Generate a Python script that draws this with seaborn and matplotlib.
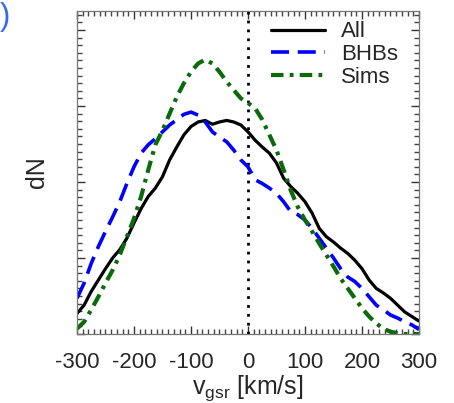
import numpy as np
import pandas as pd
import matplotlib
matplotlib.use("Agg")
import matplotlib.pyplot as plt
from matplotlib.ticker import MultipleLocator, NullFormatter
import seaborn as sns

# Velocity grid (km/s)
v_gsr = [-300, -287.5, -275, -262.5, -250, -237.5, -225, -212.5, -200, -187.5,
         -175, -162.5, -150, -137.5, -125, -112.5, -100, -87.5, -75, -62.5,
         -50, -37.5, -25, -12.5, 0, 12.5, 25, 37.5, 50, 62.5,
         75, 87.5, 100, 112.5, 125, 137.5, 150, 162.5, 175, 187.5,
         200, 212.5, 225, 237.5, 250, 262.5, 275, 287.5, 300]

# Velocity distributions (arbitrary units)
dn_all = [0.27, 0.38, 0.56, 0.71, 0.86, 1.00, 1.11, 1.26, 1.46, 1.65,
          1.81, 1.92, 2.07, 2.29, 2.46, 2.62, 2.73, 2.79, 2.81, 2.76,
          2.79, 2.81, 2.79, 2.75, 2.66, 2.55, 2.46, 2.38, 2.25, 2.05,
          1.94, 1.85, 1.74, 1.59, 1.39, 1.28, 1.21, 1.13, 1.06, 0.97,
          0.86, 0.71, 0.60, 0.54, 0.47, 0.38, 0.29, 0.23, 0.17]

dn_bhb = [0.47, 0.67, 0.93, 1.15, 1.35, 1.54, 1.74, 1.98, 2.20, 2.38,
          2.49, 2.57, 2.66, 2.75, 2.82, 2.89, 2.92, 2.88, 2.79, 2.66,
          2.59, 2.53, 2.42, 2.29, 2.20, 2.03, 1.98, 1.92, 1.85, 1.74,
          1.61, 1.57, 1.50, 1.39, 1.26, 1.13, 1.00, 0.86, 0.75, 0.69,
          0.60, 0.49, 0.38, 0.32, 0.25, 0.21, 0.16, 0.12, 0.06]

dn_sims = [0.07, 0.16, 0.32, 0.49, 0.67, 0.84, 1.04, 1.28, 1.52, 1.81,
           2.16, 2.49, 2.68, 2.90, 3.12, 3.30, 3.45, 3.56, 3.61, 3.56,
           3.45, 3.32, 3.21, 3.10, 3.04, 2.97, 2.82, 2.62, 2.42, 2.16,
           1.89, 1.67, 1.50, 1.35, 1.19, 1.04, 0.89, 0.73, 0.60, 0.47,
           0.34, 0.23, 0.14, 0.07, 0.03, 0.01, 0.00, 0.00, 0.00]

series_names = ["All", "BHBs", "Sims"]
tick_vals = [-300, -200, -100, 0, 100, 200, 300]

sns.set_style("ticks")
plt.rcParams["font.family"] = ["Liberation Sans", "DejaVu Sans"]
plt.rcParams["mathtext.fontset"] = "custom"
plt.rcParams["mathtext.rm"] = "Liberation Sans"

fig = plt.figure(figsize=(4.54, 4.03), dpi=100)
ax = fig.add_axes([0.1696, 0.1712, 0.7533, 0.8015])

styles = {
    "All": dict(color="black", lw=2.3, linestyle="-"),
    "BHBs": dict(color="#0000ff", lw=2.6, linestyle=(0, (5.0, 2.4))),
    "Sims": dict(color="#0b6b0b", lw=3.0, linestyle=(0, (3.0, 1.5, 0.9, 1.5))),
}
for name, vals in zip(series_names, [dn_all, dn_bhb, dn_sims]):
    df = pd.DataFrame({"v": v_gsr, "dN": vals})
    sns.lineplot(data=df, x="v", y="dN", ax=ax, label=name, **styles[name])

ax.axvline(0, color="black", lw=2.0, linestyle=(0, (1, 2.2)), zorder=1)

ax.set_xlim(-300, 300)
ax.set_ylim(0, 4.25)
ax.set_xticks(tick_vals)
ax.set_xticklabels([str(t) for t in tick_vals])
ax.yaxis.set_major_locator(MultipleLocator(1))
ax.yaxis.set_major_formatter(NullFormatter())
ax.set_xticks(np.arange(-300, 301, 10), minor=True)
ax.set_yticks(np.arange(0, 4.25, 0.1), minor=True)

ax.tick_params(which="both", direction="in", top=True, right=True,
               color="#333333")
ax.tick_params(which="major", length=6, width=1.0)
ax.tick_params(which="minor", length=3.5, width=1.0, color="#444444")
ax.tick_params(axis="x", labelsize=16, pad=13)
for sp in ax.spines.values():
    sp.set_color("#777777")
    sp.set_linewidth(0.9)

ax.set_xlabel(r"v$_{\rm gsr}$ [km/s]", fontsize=18, labelpad=0.5)
ax.set_ylabel("dN", fontsize=18, labelpad=17)

leg = ax.legend(loc="upper left", bbox_to_anchor=(0.567, 0.968), frameon=False,
                fontsize=16, handlelength=2.45, handletextpad=0.7,
                labelspacing=0.08, borderpad=0, borderaxespad=0)

# Panel label fragment at the upper-left corner
fig.text(0.0, 0.995, ")", color="#3366ff", fontsize=22, ha="left", va="top")

fig.savefig("out.png", dpi=100)
